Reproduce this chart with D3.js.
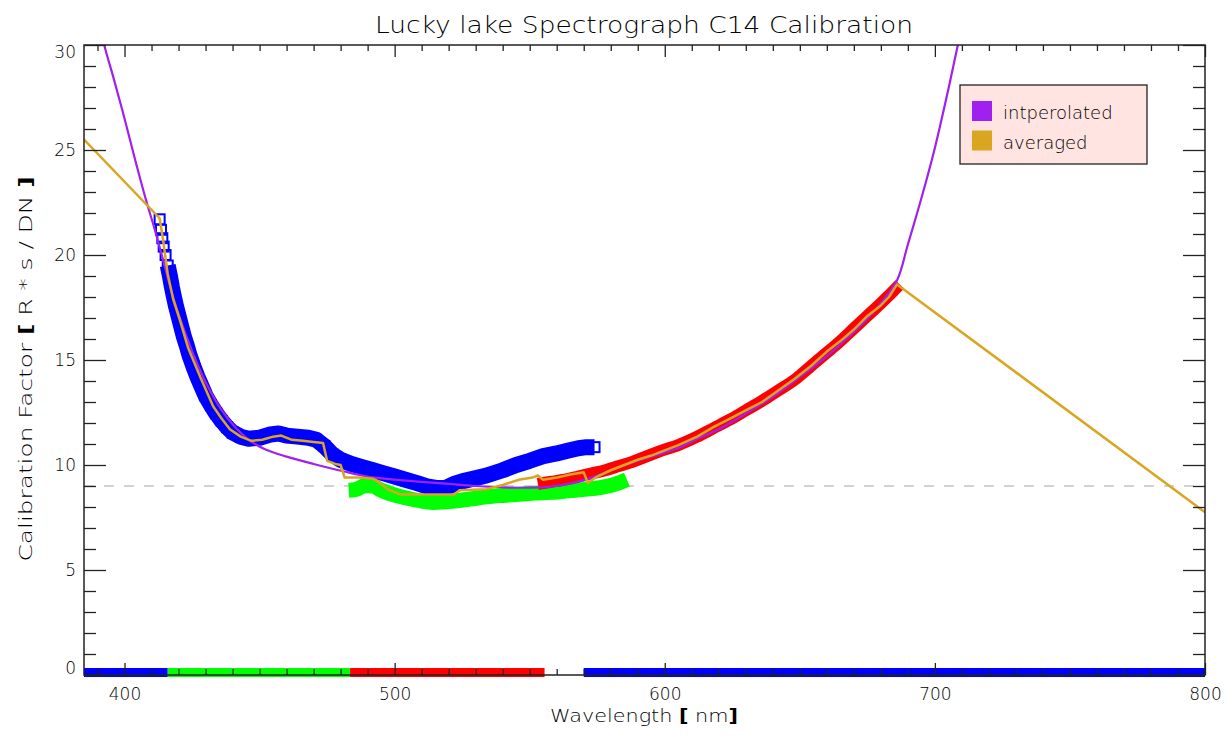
<!DOCTYPE html>
<html><head><meta charset="utf-8">
<script src="https://cdn.jsdelivr.net/npm/d3@7/dist/d3.min.js"></script>
<style>
html,body{margin:0;padding:0;background:#fff;}
text{font-family:"DejaVu Sans","Liberation Sans",sans-serif;font-weight:200;fill:#000;}
</style></head>
<body>
<svg id="chart" width="1225" height="737"></svg>
<script>
// ---------------- data ----------------
const titleText = "Lucky lake Spectrograph C14 Calibration";
const xLabelParts = ["Wavelength ", "[", " nm", "]"];
const yLabelParts = ["Calibration Factor ", "[", " R * s / DN ", "]"];
const xMajorTicks = [400, 500, 600, 700, 800];
const yMajorTicks = [0, 5, 10, 15, 20, 25, 30];
const referenceLevel = 9;
const legendLabels = ["intperolated", "averaged"];

// blue channel (square markers)
const blueData = [[413.0,21.7],[413.5,21.2],[414.0,20.8],[414.5,20.4],[415.2,20.0],[416.0,19.5],[416.8,19.0],[417.5,18.5],[418.3,18.0],[419.0,17.6],[420.0,17.1],[421.0,16.6],[422.0,16.1],[423.0,15.7],[424.0,15.25],[425.5,14.7],[427.0,14.2],[428.5,13.75],[430.0,13.3],[432.0,12.85],[434.0,12.45],[436.0,12.1],[438.0,11.8],[440.0,11.55],[443.0,11.35],[446.0,11.25],[450,11.3],[454,11.45],[457,11.5],[460,11.4],[464,11.35],[468,11.3],[471,11.2],[474,10.9],[477,10.5],[480,10.25],[484,10.05],[488,9.9],[492,9.75],[496,9.6],[500,9.45],[504,9.3],[508,9.15],[512,8.98],[516,8.9],[519,8.92],[522,9.1],[525,9.22],[529,9.35],[534,9.5],[540,9.75],[545,10.0],[550,10.2],[555,10.42],[560,10.55],[564,10.68],[568,10.8],[571,10.85],[574,10.85]];
// green channel
const greenData = [[483,8.8],[486,8.85],[489,9.02],[492,9.0],[495,8.8],[498,8.65],[502,8.5],[506,8.38],[510,8.28],[514,8.22],[518,8.24],[523,8.3],[528,8.38],[534,8.48],[540,8.55],[545,8.6],[552,8.66],[558,8.7],[565,8.78],[571,8.85],[577,8.95],[582,9.1],[586,9.3]];
// red channel
const redData = [[553,9.1],[558,9.2],[563,9.3],[568,9.45],[573,9.6],[578,9.75],[583,9.95],[588,10.15],[593,10.4],[598,10.65],[605,10.95],[612,11.35],[618,11.75],[624,12.15],[630,12.6],[636,13.05],[642,13.55],[648,14.05],[654,14.7],[660,15.35],[665,15.9],[670,16.5],[675,17.1],[680,17.7],[684,18.2],[687,18.6]];
// interpolated curve
const interpolatedData = [[390,31.5],[392.5,30],[396,28.4],[400,26.5],[404,24.5],[408,22.6],[411,21.3],[414,19.9],[418,18.0],[423,16.1],[427,14.8],[431,13.7],[436,12.6],[441,11.8],[446,11.2],[452,10.75],[460,10.4],[470,10.05],[481,9.7],[490,9.45],[500,9.3],[510,9.2],[520,9.1],[530,9.0],[540,8.93],[550,8.92],[558,8.97],[566,9.15],[573,9.4],[580,9.75],[590,10.2],[600,10.6],[606,10.86],[612,11.25],[620,11.7],[630,12.45],[640,13.25],[650,14.2],[655,14.67],[662,15.4],[668,16.1],[673.5,16.76],[680,17.7],[686,18.8],[690,20.5],[695,22.7],[700,25.1],[705,27.9],[708.5,30],[710,31]];
// averaged curve
const averagedData = [[385,25.5],[413,21.75],[414.3,20.7],[416,19.1],[418,17.9],[420.5,16.9],[423.5,15.6],[428,14.2],[432.8,12.8],[436,12.2],[439,11.7],[443,11.35],[447,11.15],[451,11.2],[455,11.35],[458,11.4],[462,11.2],[466,11.15],[470,11.1],[473.5,11.05],[475,10.2],[478,10.05],[480,10.0],[481.5,9.4],[487,9.4],[492,9.35],[495,9.1],[498,8.8],[502,8.6],[512,8.6],[522,8.6],[524,8.8],[534,8.85],[540,9.05],[546,9.3],[551,9.4],[553,9.5],[555,9.3],[560,9.4],[565,9.55],[570,9.65],[571.5,9.15],[575,9.45],[580,9.75],[585,10.0],[590,10.25],[595,10.45],[600,10.7],[605,10.95],[612,11.35],[618,11.8],[624,12.2],[630,12.6],[636,13.0],[642,13.55],[648,14.1],[654,14.7],[660,15.4],[665,15.9],[670,16.45],[675,17.1],[680,17.6],[683,18.0],[686,18.6],[800,7.75]];
// bottom coverage bar
const barFrom = [385, 416, 483.5, 570];
const barTo = [416, 483.5, 555.5, 800];
const barBand = ["blue", "green", "red", "blue"];

// ---------------- layout / style ----------------
const M = {left: 84, right: 1205, top: 45, bottom: 675};
const colors = {blue: "#0000ff", green: "#00ff00", red: "#ff0000", purple: "#a020f0", gold: "#daa520"};

const svg = d3.select("#chart");
const x = d3.scaleLinear().domain([385, 800]).range([M.left, M.right]);
const y = d3.scaleLinear().domain([0, 30]).range([M.bottom, M.top]);

svg.append("defs").append("clipPath").attr("id", "plotclip")
  .append("rect").attr("x", M.left).attr("y", M.top)
  .attr("width", M.right - M.left).attr("height", M.bottom - M.top);

const plot = svg.append("g").attr("clip-path", "url(#plotclip)");

// reference dashed line
plot.append("line")
  .attr("x1", x(385)).attr("x2", x(800))
  .attr("y1", y(referenceLevel)).attr("y2", y(referenceLevel))
  .attr("stroke", "#c4c4c4").attr("stroke-width", 1.6).attr("stroke-dasharray", "10,10");

const line = d3.line().x(d => x(d[0])).y(d => y(d[1]));

// blue band + squares
plot.append("path").datum(blueData.filter(d => d[0] >= 416))
  .attr("d", line)
  .attr("fill", "none").attr("stroke", colors.blue).attr("stroke-width", 16)
  .attr("stroke-linejoin", "round");
plot.append("g").selectAll("rect").data(blueData).join("rect")
  .attr("x", d => x(d[0]) - 5).attr("y", d => y(d[1]) - 5)
  .attr("width", 10).attr("height", 10)
  .attr("fill", "none").attr("stroke", colors.blue).attr("stroke-width", 2);

// green band
plot.append("path").datum(greenData)
  .attr("d", d3.line().x(d => x(d[0])).y(d => y(d[1])).curve(d3.curveMonotoneX))
  .attr("fill", "none").attr("stroke", colors.green).attr("stroke-width", 15)
  .attr("stroke-linejoin", "round");

// red band
plot.append("path").datum(redData)
  .attr("d", d3.line().x(d => x(d[0])).y(d => y(d[1])).curve(d3.curveMonotoneX))
  .attr("fill", "none").attr("stroke", colors.red).attr("stroke-width", 12)
  .attr("stroke-linejoin", "round");

// interpolated
plot.append("path").datum(interpolatedData)
  .attr("d", d3.line().x(d => x(d[0])).y(d => y(d[1])).curve(d3.curveCatmullRom))
  .attr("fill", "none").attr("stroke", colors.purple).attr("stroke-width", 2.2);

// averaged
plot.append("path").datum(averagedData)
  .attr("d", line)
  .attr("fill", "none").attr("stroke", colors.gold).attr("stroke-width", 2.5)
  .attr("stroke-linejoin", "round");

// bottom coverage bar
svg.append("g").selectAll("rect").data(barFrom.map((f, i) => ({from: f, to: barTo[i], band: barBand[i]})))
  .join("rect")
  .attr("x", d => x(d.from)).attr("width", d => x(d.to) - x(d.from))
  .attr("y", y(0) - 7).attr("height", 9)
  .attr("fill", d => colors[d.band]);

// ---------------- axes ----------------
const axisStyle = g => {
  g.select(".domain").remove();
  g.selectAll(".tick line").attr("stroke", "#222").attr("stroke-width", 1.3);
  g.selectAll(".tick text").style("font-size", "17px").attr("fill", "#000");
};
const xMinor = d3.range(390, 801, 10).filter(v => !xMajorTicks.includes(v));
const yMinor = d3.range(1, 30, 1).filter(v => !yMajorTicks.includes(v));

// bottom
svg.append("g").attr("transform", `translate(0,${M.bottom})`)
  .call(d3.axisBottom(x).tickValues(xMajorTicks).tickSize(-12).tickPadding(13).tickFormat(d3.format("d")))
  .call(axisStyle);
svg.append("g").attr("transform", `translate(0,${M.bottom})`)
  .call(d3.axisBottom(x).tickValues(xMinor).tickSize(-6).tickFormat(""))
  .call(axisStyle);
// top
svg.append("g").attr("transform", `translate(0,${M.top})`)
  .call(d3.axisTop(x).tickValues(xMajorTicks).tickSize(-12).tickFormat(""))
  .call(axisStyle);
svg.append("g").attr("transform", `translate(0,${M.top})`)
  .call(d3.axisTop(x).tickValues(xMinor).tickSize(-6).tickFormat(""))
  .call(axisStyle);
// left
const gl = svg.append("g").attr("transform", `translate(${M.left},0)`)
  .call(d3.axisLeft(y).tickValues(yMajorTicks).tickSize(-22).tickPadding(8).tickFormat(d3.format("d")))
  .call(axisStyle);
gl.selectAll(".tick text").attr("x", -8).attr("y", d => d === 30 ? 7 : (d === 0 ? -7 : 0));
svg.append("g").attr("transform", `translate(${M.left},0)`)
  .call(d3.axisLeft(y).tickValues(yMinor).tickSize(-12).tickFormat(""))
  .call(axisStyle);
// right
svg.append("g").attr("transform", `translate(${M.right},0)`)
  .call(d3.axisRight(y).tickValues(yMajorTicks).tickSize(-22).tickFormat(""))
  .call(axisStyle);
svg.append("g").attr("transform", `translate(${M.right},0)`)
  .call(d3.axisRight(y).tickValues(yMinor).tickSize(-12).tickFormat(""))
  .call(axisStyle);

// frame
svg.append("rect").attr("x", M.left).attr("y", M.top)
  .attr("width", M.right - M.left).attr("height", M.bottom - M.top)
  .attr("fill", "none").attr("stroke", "#222").attr("stroke-width", 1.5);

// ---------------- texts ----------------
svg.append("text").attr("x", 644).attr("y", 33).attr("text-anchor", "middle")
  .style("font-size", "23px").attr("textLength", 538).attr("lengthAdjust", "spacingAndGlyphs")
  .text(titleText);

const xl = svg.append("text").attr("x", 644).attr("y", 722).attr("text-anchor", "middle")
  .style("font-size", "18px").attr("textLength", 188).attr("lengthAdjust", "spacingAndGlyphs");
xl.selectAll("tspan").data(xLabelParts).join("tspan")
  .style("font-weight", d => (d === "[" || d === "]") ? "bold" : null).text(d => d);

const yl = svg.append("text").attr("transform", "translate(32,369) rotate(-90)").attr("text-anchor", "middle")
  .style("font-size", "18px").attr("textLength", 385).attr("lengthAdjust", "spacingAndGlyphs");
yl.selectAll("tspan").data(yLabelParts).join("tspan")
  .style("font-weight", d => (d === "[" || d === "]") ? "bold" : null).text(d => d);

// legend
const lg = svg.append("g");
lg.append("rect").attr("x", 960).attr("y", 85).attr("width", 187).attr("height", 79)
  .attr("fill", "#ffe4e1").attr("stroke", "#222").attr("stroke-width", 1.3);
const legendColors = [colors.purple, colors.gold];
legendLabels.forEach((lab, i) => {
  lg.append("rect").attr("x", 972).attr("y", 101 + i * 29.5).attr("width", 20).attr("height", 20)
    .attr("fill", legendColors[i]);
  lg.append("text").attr("x", 1003).attr("y", 119 + i * 30).style("font-size", "18px").text(lab);
});
</script>
</body></html>
